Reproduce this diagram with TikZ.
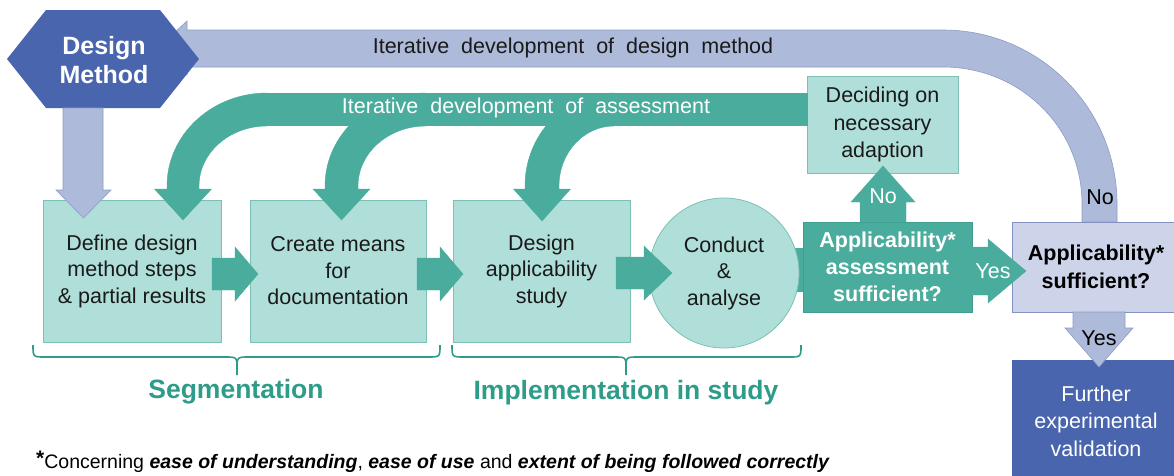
\documentclass[tikz,border=0pt]{standalone}
\usepackage{fontspec}
\setmainfont{Liberation Sans}
\newcommand\myfs[2]{\fontsize{#1}{#2}\selectfont}
\definecolor{dkblue}{HTML}{4865AD}
\definecolor{bgrey}{HTML}{ADBAD9}
\definecolor{bgreyline}{HTML}{8D9CC8}
\definecolor{sufbox}{HTML}{CDD4E9}
\definecolor{sufline}{HTML}{8391C3}
\definecolor{teal}{HTML}{4AAC9D}
\definecolor{tealline}{HTML}{3F9E90}
\definecolor{tealL}{HTML}{B0DFDA}
\definecolor{tealLline}{HTML}{7DBFB4}
\definecolor{brgreen}{HTML}{2D9C88}
\definecolor{txt}{HTML}{1A1A1A}
\begin{document}
\begin{tikzpicture}[x=1pt,y=-1pt,
  lbox/.style={draw=tealLline, fill=tealL, line width=0.8pt, inner sep=0pt, align=center, text=txt, font=\myfs{21.5}{26.5}},
  tbox/.style={draw=tealline, fill=teal, line width=0.8pt, inner sep=0pt, align=center, text=white, font=\bfseries\myfs{21.5}{27}},
  sbox/.style={draw=sufline, fill=sufbox, line width=0.8pt, inner sep=0pt, align=center, text=black, font=\bfseries\myfs{21.5}{28}},
  dbox/.style={fill=dkblue, inner sep=0pt, align=center, text=white, font=\myfs{21.5}{27.5}},
  tarrow/.style={fill=teal, draw=teal, line width=0.4pt},
  barrow/.style={fill=bgrey, draw=bgreyline, line width=0.6pt},
  brace/.style={draw=brgreen, line width=1.6pt},
  lbl/.style={inner sep=0pt, font=\myfs{21.5}{26}}
]
\useasboundingbox (0,0) rectangle (1174,475);

% ---------- big blue-grey feedback arrow ----------
\path[barrow] (158,48) -- (187,21) -- (187,30) -- (943,30)
  .. controls (1039.1,30) and (1117,107.9) .. (1117,204) -- (1117,222)
  -- (1082,222) -- (1082,204)
  .. controls (1082,127.2) and (1019.8,67) .. (943,67)
  -- (187,67) -- (187,75) -- cycle;
\node[lbl, text=txt] (t1) at (573,48) {Iterative\ \ development\ \ of\ \ design\ \ method};
\node[lbl, text=black] (no2) at (1100,197) {No};

% ---------- design method hexagon ----------
\path[fill=dkblue] (7,59) -- (46,10) -- (160,10) -- (199,59) -- (160,108) -- (46,108) -- cycle;
\node[inner sep=0pt, align=center, text=white, font=\bfseries\myfs{25}{29}] (dm) at (104,60) {Design\\Method};

% connector conduct -> assessment (behind)
\path[fill=teal] (780,248) rectangle (806,292);

% ---------- boxes ----------
\node[lbox, minimum width=178pt, minimum height=142pt] (define) at (132,271) {Define design\\method steps\\\& partial results};
\node[lbox, minimum width=176pt, minimum height=142pt] (create) at (338,271) {Create means\\for\\documentation};
\node[lbox, minimum width=177pt, minimum height=142pt] (design) at (541.5,271) {Design\\applicability\\study};
\node[lbox, circle, minimum size=150pt] (conduct) at (724,273) {Conduct\\\&\\analyse};
\node[lbox, minimum width=151pt, minimum height=97pt, font=\myfs{21.5}{27.5}] (decide) at (882.5,124.5) {Deciding on\\necessary\\adaption};
\node[tbox, minimum width=169pt, minimum height=90pt] (assess) at (887.5,267) {Applicability*\\assessment\\sufficient?};
\node[sbox, minimum width=168pt, minimum height=90pt] (suff) at (1096,267) {Applicability*\\sufficient?};
\node[dbox, minimum width=168pt, minimum height=122pt] (further) at (1096,421) {Further\\experimental\\validation};

% ---------- teal assessment loop ----------
\path[fill=teal] (267,93) rectangle (808,126);
\path[tarrow] (167,186) .. controls (167,134.6) and (211.8,93) .. (267,93) -- (267,126)
  .. controls (229.4,126) and (199,152.9) .. (199,186)
  -- (199,189) -- (211.5,189) -- (183,220) -- (154.5,189) -- (167,189) -- cycle;
\path[tarrow] (325,186) .. controls (325,134.6) and (370.2,93) .. (426,93) -- (426,126)
  .. controls (388.4,126) and (358,152.9) .. (358,186)
  -- (358,189) -- (370,189) -- (341.5,220) -- (313,189) -- (325,189) -- cycle;
\path[tarrow] (525,186) .. controls (525,134.6) and (564.8,93) .. (614,93) -- (614,126)
  .. controls (583.6,126) and (559,152.9) .. (559,186)
  -- (559,189) -- (570.5,189) -- (542,221) -- (513.5,189) -- (525,189) -- cycle;
\node[lbl, text=white] (t2) at (526,108) {Iterative\ \ development\ \ of\ \ assessment};

% ---------- design method down arrow ----------
\path[barrow] (63,108) -- (103,108) -- (103,190) -- (111,190) -- (83.5,218) -- (56,190) -- (63,190) -- cycle;

% ---------- step arrows ----------
\path[tarrow] (212,258) -- (235,258) -- (235,247) -- (258,274) -- (235,301) -- (235,290) -- (212,290) -- cycle;
\path[tarrow] (417,258) -- (440,258) -- (440,247) -- (463,274) -- (440,301) -- (440,290) -- (417,290) -- cycle;
\path[tarrow] (616,257) -- (644,257) -- (644,246) -- (672,273) -- (644,300) -- (644,289) -- (616,289) -- cycle;

% No (up) arrow
\path[tarrow] (860,222) -- (860,202) -- (851,202) -- (883,166) -- (915,202) -- (906,202) -- (906,222) -- cycle;
\node[lbl, text=white] (no1) at (883,196) {No};

% Yes (right) arrow
\path[tarrow] (972,247) -- (988,247) -- (988,239) -- (1026,271) -- (988,303) -- (988,295) -- (972,295) -- cycle;
\node[lbl, text=white] (yes1) at (993,271) {Yes};

% Yes (down) arrow
\path[barrow] (1073,312) -- (1125,312) -- (1125,328) -- (1133,328) -- (1099,367) -- (1065,328) -- (1073,328) -- cycle;
\node[lbl, text=black] (yes2) at (1099,338) {Yes};

% ---------- braces ----------
\draw[brace] (33,345) .. controls (33,357) .. (45,357) -- (225,357) .. controls (237,357) .. (237,369) -- (237,375)
  (237,369) .. controls (237,357) .. (249,357) -- (428,357) .. controls (440,357) .. (440,345);
\draw[brace] (452,345) .. controls (452,357) .. (464,357) -- (614,357) .. controls (626,357) .. (626,369) -- (626,375)
  (626,369) .. controls (626,357) .. (638,357) -- (789,357) .. controls (801,357) .. (801,345);
\node[inner sep=0pt, text=brgreen, font=\bfseries\myfs{26.5}{30}] (seg) at (236,392) {Segmentation};
\node[inner sep=0pt, text=brgreen, font=\bfseries\myfs{26.5}{30}] (impl) at (626,393) {Implementation in study};

% ---------- footnote ----------
\node[inner sep=0pt, anchor=west, text=black, font=\myfs{19.5}{21}] (foot) at (36,462)
  {\raisebox{3pt}{\bfseries\myfs{21}{21}*}Concerning \textbf{\textit{ease of understanding}}, \textbf{\textit{ease of use}} and \textbf{\textit{extent of being followed correctly}}};
\end{tikzpicture}
\end{document}
